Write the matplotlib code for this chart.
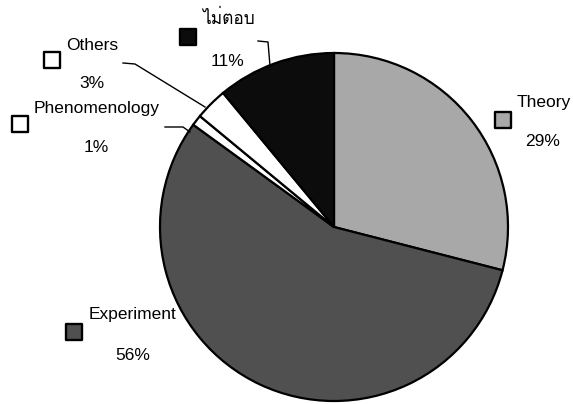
import matplotlib
matplotlib.use('Agg')
import matplotlib.pyplot as plt
from matplotlib import font_manager
from matplotlib.ft2font import FT2Font

# survey answers (percent), clockwise from 12 o'clock
labels = ['Theory', 'Experiment', 'Phenomenology', 'Others', 'ไม่ตอบ']
values = [29, 56, 1, 3, 11]
colors = ['#a8a8a8', '#505050', '#ffffff', '#ffffff', '#0c0c0c']

W, H = 573, 404


def px(x, y):
    """pixel position (from top left) -> data coords"""
    return x, H - y


def thai_family():
    """find an installed family that can draw Thai"""
    for f in font_manager.fontManager.ttflist:
        try:
            if 0x0E44 in FT2Font(f.fname).get_charmap():
                return f.name
        except Exception:
            pass
    return None


base = 'Liberation Sans'
th = thai_family()
fams = [base, th, 'DejaVu Sans'] if th else [base, 'DejaVu Sans']
plt.rcParams['font.family'] = fams

fig = plt.figure(figsize=(W / 100, H / 100), dpi=100)
ax = fig.add_axes([0, 0, 1, 1])

ax.pie(values, colors=colors, startangle=90, counterclock=False,
       center=px(334, 227), radius=174, frame=True,
       wedgeprops=dict(edgecolor='black', linewidth=1.6))

ax.set_xlim(0, W)
ax.set_ylim(0, H)
ax.set_aspect('equal')
ax.axis('off')

# label layout: text centre, percent centre, square centre (pixels)
layout = {
    'Theory': ((544, 103), (543, 142), (503, 120)),
    'Experiment': ((133, 315), (133, 355), (74, 332)),
    'Phenomenology': ((97, 108), (96, 147), (20, 124)),
    'Others': ((92, 45), (92, 83), (52, 60)),
    'ไม่ตอบ': ((228, 18), (227, 61), (188, 37)),
}

for lab, val, col in zip(labels, values, colors):
    t, p, s = layout[lab]
    ax.text(*px(*t), lab, ha='center', va='center', fontsize=12.5)
    ax.text(*px(*p), f'{val}%', ha='center', va='center', fontsize=12.5)
    ax.scatter(*px(*s), marker='s', s=120, facecolor=col,
               edgecolor='black', linewidth=1.7, zorder=5)

# leader lines for the small slices
leaders = [
    [(258, 41), (268, 42), (270, 66)],
    [(123, 63), (135, 64), (205, 107)],
    [(165, 127), (183, 127), (190, 132)],
]
for pts in leaders:
    xs, ys = zip(*[px(x, y) for x, y in pts])
    ax.plot(xs, ys, color='black', linewidth=1.0)

fig.savefig('out.png', dpi=100, facecolor='white')
